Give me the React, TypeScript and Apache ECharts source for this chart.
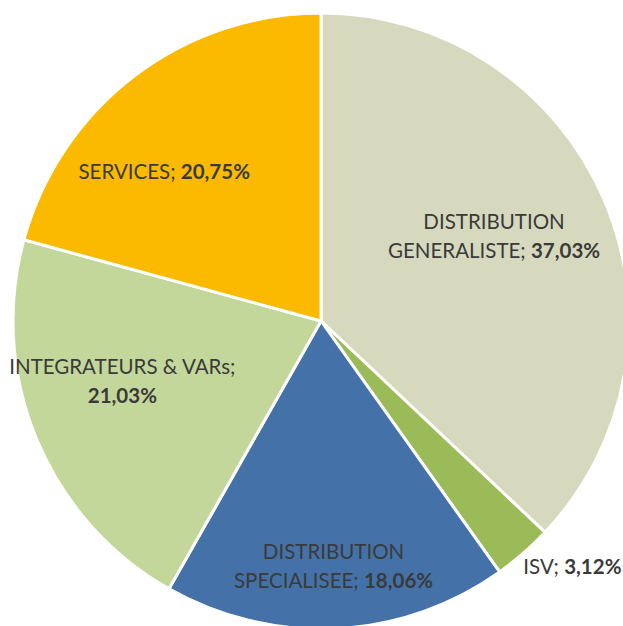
import React, { useEffect, useRef } from "react";
import * as echarts from "echarts";

const names = ["DISTRIBUTION\nGENERALISTE", "ISV", "DISTRIBUTION\nSPECIALISEE", "INTEGRATEURS & VARs", "SERVICES"];
const values = [37.03, 3.12, 18.06, 21.03, 20.75];
const colors = ["#D6D9BD", "#9BBB59", "#4472A8", "#C4D79B", "#FBBA00"];
const separators = [" ", " ", " ", "\n", " "];
// label distance relative to default inside (0.5 r) position, and rotation tweak (deg)
const labelScale = [1.23, 2.235, 1.56, 1.32, 1.38];
const labelRotate = [-3, -4.7, 0, 6, -9];

const CX = 321;
const CY = 321;
const FS = 20.5;

export default function App() {
  const ref = useRef<HTMLDivElement>(null);
  useEffect(() => {
    if (!ref.current) return;
    const chart = echarts.init(ref.current, null, { renderer: "svg" });
    const fmt = (v: number) => v.toFixed(2).replace(".", ",") + "%";
    chart.setOption({
      animation: false,
      series: [
        {
          type: "pie",
          center: [CX, CY],
          radius: [0, 308],
          startAngle: 90,
          clockwise: true,
          avoidLabelOverlap: false,
          itemStyle: { borderColor: "#ffffff", borderWidth: 3 },
          label: {
            show: true,
            position: "inside",
            color: "#3a3a3a",
            fontFamily: "Lato",
            fontSize: FS,
            lineHeight: 29,
            formatter: (p: any) => {
              const i = p.dataIndex;
              const lines = (names[i] + ";" + separators[i]).split("\n");
              const parts = lines.map((l, k) =>
                k < lines.length - 1 ? `{n|${l}}` : (l ? `{n|${l}}` : "") + `{b|${fmt(values[i])}}`
              );
              return parts.join("\n");
            },
            rich: {
              n: { fontFamily: "Lato", fontSize: FS, color: "#3a3a3a", lineHeight: 29 },
              b: { fontFamily: "Lato", fontSize: FS, fontWeight: "bold", color: "#3a3a3a", lineHeight: 29 },
            },
          },
          labelLine: { show: false },
          labelLayout: (params: any) => {
            const i = params.dataIndex;
            const r = params.labelRect;
            const lx = r.x + r.width / 2 - CX;
            const ly = r.y + r.height / 2 - CY;
            const a = (labelRotate[i] * Math.PI) / 180;
            const s = labelScale[i];
            const rx = (lx * Math.cos(a) - ly * Math.sin(a)) * s;
            const ry = (lx * Math.sin(a) + ly * Math.cos(a)) * s;
            return { x: CX + rx, y: CY + ry, align: "center", verticalAlign: "middle" };
          },
          data: names.map((n, i) => ({
            name: n,
            value: values[i],
            itemStyle: { color: colors[i] },
          })),
        },
      ],
    });
    return () => chart.dispose();
  }, []);
  return (
    <div
      ref={ref}
      style={{ position: "absolute", left: 0, top: 0, width: 623, height: 626, background: "#ffffff" }}
    />
  );
}
